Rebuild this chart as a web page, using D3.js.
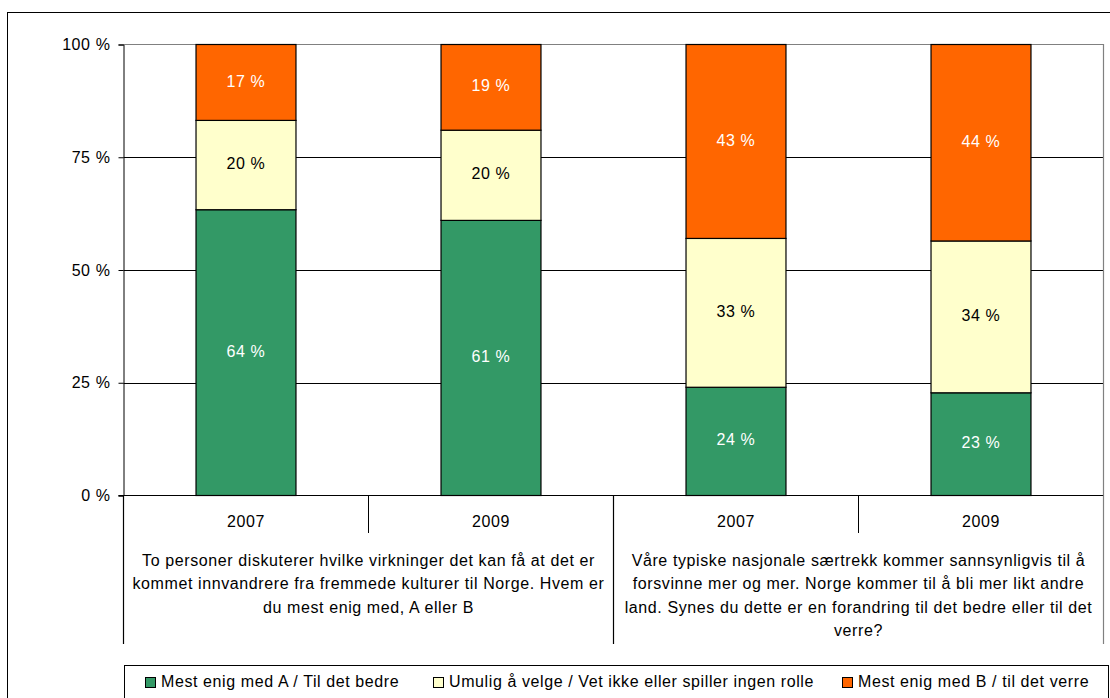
<!DOCTYPE html>
<html lang="no">
<head>
<meta charset="UTF-8">
<title>Stablet søylediagram</title>
<script src="https://d3js.org/d3.v7.min.js"></script>
<style>
    body { margin: 0; background: #fff; }
    * { font-family: "Liberation Sans", Arial, sans-serif; }
    text { letter-spacing: 0.6px; }
</style>
</head>
<body>
<svg width="1110" height="698"></svg>
<script>
    // data
    const groups = ["A", "B"];
    const years = ["2007", "2009"];
    const groupLines = [
        ["To personer diskuterer hvilke virkninger det kan få at det er",
         "kommet innvandrere fra fremmede kulturer til Norge. Hvem er",
         "du mest enig med, A eller B"],
        ["Våre typiske nasjonale særtrekk kommer sannsynligvis til å",
         "forsvinne mer og mer. Norge kommer til å bli mer likt andre",
         "land. Synes du dette er en forandring til det bedre eller til det",
         "verre?"]
    ];
    const seriesNames = ["Mest enig med A / Til det bedre",
                         "Umulig å velge / Vet ikke eller spiller ingen rolle",
                         "Mest enig med B / til det verre"];
    const bedre = [64, 61, 24, 23];
    const umulig = [20, 20, 33, 34];
    const verre = [17, 19, 43, 44];
    const yTicks = [0, 0.25, 0.5, 0.75, 1];
    const colors = ["#339966", "#FFFFCC", "#FF6600"];
    const labelColors = ["#fff", "#000", "#fff"];

    const svg = d3.select("svg");
    const plotL = 123.5, plotR = 1103.5, plotT = 44.5, plotB = 495.5;

    // outer border
    svg.append("rect").attr("x", 7.5).attr("y", 12.5).attr("width", 1120).attr("height", 720)
        .attr("fill", "none").attr("stroke", "#000").attr("stroke-width", 1);

    const cats = [];
    groups.forEach(g => years.forEach(y => cats.push(g + "-" + y)));
    const rows = cats.map((c, i) => ({ cat: c, s0: bedre[i], s1: umulig[i], s2: verre[i] }));

    const x = d3.scaleBand().domain(cats).range([plotL, plotR]).paddingInner(0.592).paddingOuter(0.296);
    const xg = d3.scaleBand().domain(groups).range([plotL, plotR]);
    const y = d3.scaleLinear().domain([0, 1]).range([plotB, plotT]);

    // gridlines
    svg.append("g").selectAll("line").data(yTicks.filter(t => t > 0 && t < 1)).join("line")
        .attr("x1", plotL).attr("x2", plotR).attr("y1", d => Math.round(y(d)) + 0.5).attr("y2", d => Math.round(y(d)) + 0.5)
        .attr("stroke", "#000").attr("stroke-width", 1);

    // plot frame (gray top & right)
    svg.append("path").attr("d", `M${plotL},${plotT}H${plotR}V${plotB}`)
        .attr("fill", "none").attr("stroke", "#808080").attr("stroke-width", 1.2);

    // y axis
    const yAxis = svg.append("g").attr("transform", `translate(${plotL},0)`)
        .call(d3.axisLeft(y).tickValues(yTicks).tickFormat(d => Math.round(d * 100) + " %").tickSize(5).tickPadding(8));
    yAxis.select(".domain").attr("stroke", "#000");
    yAxis.selectAll("text").attr("font-size", 16).attr("fill", "#000").attr("font-family", "Liberation Sans, Arial, sans-serif");

    // stacked bars
    const stack = d3.stack().keys(["s0", "s1", "s2"]).offset(d3.stackOffsetExpand);
    const layers = stack(rows);
    layers.forEach((layer, li) => {
        const gl = svg.append("g");
        gl.selectAll("rect").data(layer).join("rect")
            .attr("x", d => x(d.data.cat))
            .attr("y", d => y(d[1]))
            .attr("width", x.bandwidth())
            .attr("height", d => y(d[0]) - y(d[1]))
            .attr("fill", colors[li]).attr("stroke", "#000").attr("stroke-width", 1.2);
        gl.selectAll("text").data(layer).join("text")
            .attr("x", d => x(d.data.cat) + x.bandwidth() / 2)
            .attr("y", d => (y(d[0]) + y(d[1])) / 2 - 1.5)
            .attr("dy", "0.35em").attr("text-anchor", "middle")
            .attr("font-size", 16).attr("fill", labelColors[li])
            .text(d => d.data[layer.key] + " %");
    });

    // x axis baseline
    svg.append("line").attr("x1", plotL - 5).attr("x2", plotR).attr("y1", plotB).attr("y2", plotB)
        .attr("stroke", "#000").attr("stroke-width", 1.2);

    // year labels and separators
    svg.append("g").selectAll("text").data(cats).join("text")
        .attr("x", d => x(d) + x.bandwidth() / 2).attr("y", 521.5).attr("dy", "0.35em")
        .attr("text-anchor", "middle").attr("font-size", 16).attr("fill", "#000")
        .text(d => d.split("-")[1]);
    svg.append("g").selectAll("line").data(groups).join("line")
        .attr("x1", d => xg(d) + xg.bandwidth() / 2).attr("x2", d => xg(d) + xg.bandwidth() / 2)
        .attr("y1", plotB).attr("y2", 533).attr("stroke", "#000");

    // group separators
    const gBounds = groups.map(g => xg(g)).concat([plotR]);
    svg.append("g").selectAll("line").data(gBounds).join("line")
        .attr("x1", d => d).attr("x2", d => d).attr("y1", plotB).attr("y2", 644)
        .attr("stroke", (d, i) => i === gBounds.length - 1 ? "#808080" : "#000").attr("stroke-width", 1.2);

    // group labels
    groups.forEach((g, gi) => {
        const t = svg.append("text").attr("text-anchor", "middle").attr("font-size", 16).attr("fill", "#000");
        groupLines[gi].forEach((line, li) => {
            t.append("tspan").attr("x", xg(g) + xg.bandwidth() / 2).attr("y", 560.5 + li * 23.3)
                .attr("dy", "0.35em").text(line);
        });
    });

    // legend
    const lg = svg.append("g");
    lg.append("rect").attr("x", 124.5).attr("y", 665.5).attr("width", 984).attr("height", 40)
        .attr("fill", "#fff").attr("stroke", "#000");
    const legendX = [145, 433, 842];
    seriesNames.forEach((name, i) => {
        lg.append("rect").attr("x", legendX[i] + 0.5).attr("y", 677.5).attr("width", 10).attr("height", 10)
            .attr("fill", colors[i]).attr("stroke", "#000");
        lg.append("text").attr("x", legendX[i] + 16).attr("y", 681).attr("dy", "0.35em")
            .attr("font-size", 16).attr("fill", "#000").text(name);
    });
</script>
</body>
</html>
